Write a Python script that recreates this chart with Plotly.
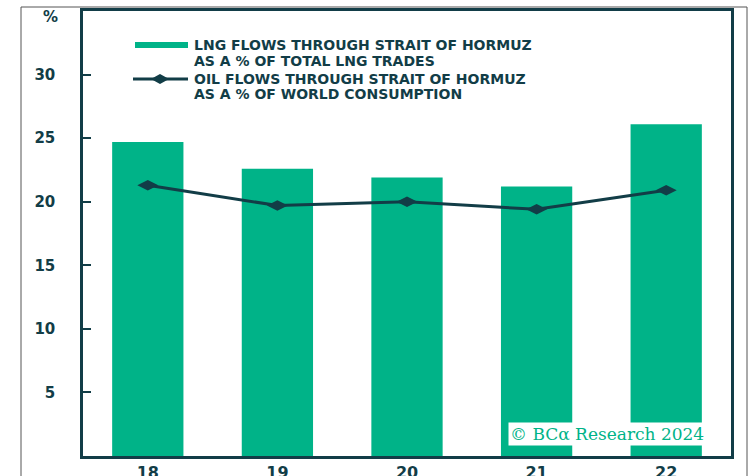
import plotly.graph_objects as go

years = ["18", "19", "20", "21", "22"]
lng_share = [24.7, 22.6, 21.9, 21.2, 26.1]
oil_share = [21.3, 19.7, 20.0, 19.4, 20.9]
y_ticks = [5, 10, 15, 20, 25, 30]

GREEN = "#00b388"
DARK = "#123d47"
FONT = "DejaVu Sans"

W, H = 752, 476
L, R, T, B = 83, 731, 11, 456


def px(x):
    return (x - L) / (R - L)


def py(y):
    return (B - y) / (B - T)


fig = go.Figure()
fig.add_trace(go.Bar(x=years, y=lng_share, marker=dict(color=GREEN, line=dict(width=0)),
                     name="LNG", showlegend=False))
fig.add_trace(go.Scatter(x=years, y=oil_share, mode="lines+markers",
                         line=dict(color=DARK, width=3),
                         marker=dict(symbol="diamond-wide", size=15, color=DARK),
                         name="OIL", showlegend=False))

shapes = [
    # outer frame
    dict(type="rect", xref="paper", yref="paper", x0=px(21), x1=px(747), y0=py(500), y1=py(7),
         line=dict(color="#555555", width=1), layer="below"),
    # legend symbols
    dict(type="rect", xref="paper", yref="paper", x0=px(135), x1=px(188), y0=py(48), y1=py(42),
         fillcolor=GREEN, line=dict(width=0)),
    dict(type="line", xref="paper", yref="paper", x0=px(133), x1=px(188), y0=py(79), y1=py(79),
         line=dict(color=DARK, width=3)),
    dict(type="path", xref="paper", yref="paper",
         path=f"M {px(151)} {py(79)} L {px(160)} {py(74)} L {px(169)} {py(79)} L {px(160)} {py(84)} Z",
         fillcolor=DARK, line=dict(width=0)),
]

legend_lines = [
    ("LNG FLOWS THROUGH STRAIT OF HORMUZ", 45),
    ("AS A % OF TOTAL LNG TRADES", 61),
    ("OIL FLOWS THROUGH STRAIT OF HORMUZ", 79),
    ("AS A % OF WORLD CONSUMPTION", 94),
]

annotations = [
    dict(text=t, xref="paper", yref="paper", x=px(192), y=py(yy), xanchor="left", yanchor="middle",
         showarrow=False, align="left",
         font=dict(family=FONT, size=14, color=DARK, weight="bold"))
    for t, yy in legend_lines
] + [
    dict(text="%", xref="paper", yref="paper", x=px(50), y=py(17), xanchor="center", yanchor="middle",
         showarrow=False, font=dict(family=FONT, size=15, color=DARK, weight="bold")),
    dict(text="© BCα Research 2024", xref="paper", yref="paper", x=px(607), y=py(434),
         xanchor="center", yanchor="middle", showarrow=False, bgcolor="white",
         borderpad=1, font=dict(family="DejaVu Serif", size=17, color=GREEN)),
]

fig.update_layout(
    width=W, height=H,
    margin=dict(l=L, r=W - R, t=T, b=H - B, autoexpand=False),
    paper_bgcolor="white", plot_bgcolor="white",
    bargap=0.45,
    shapes=shapes, annotations=annotations,
    xaxis=dict(type="category", showgrid=False, showline=True, linecolor=DARK, linewidth=2.5,
               mirror=True, ticks="", ticklabelstandoff=0, automargin=False,
               tickfont=dict(family=FONT, size=16, color=DARK, weight="bold")),
    yaxis=dict(range=[0, 35], tickvals=y_ticks, showgrid=False, zeroline=False,
               showline=True, linecolor=DARK, linewidth=2.5, mirror=True,
               ticks="inside", ticklen=8, tickwidth=1.5, tickcolor=DARK,
               ticklabelstandoff=22, automargin=False,
               tickfont=dict(family=FONT, size=15, color=DARK, weight="bold")),
)

fig.write_html("out.html")
